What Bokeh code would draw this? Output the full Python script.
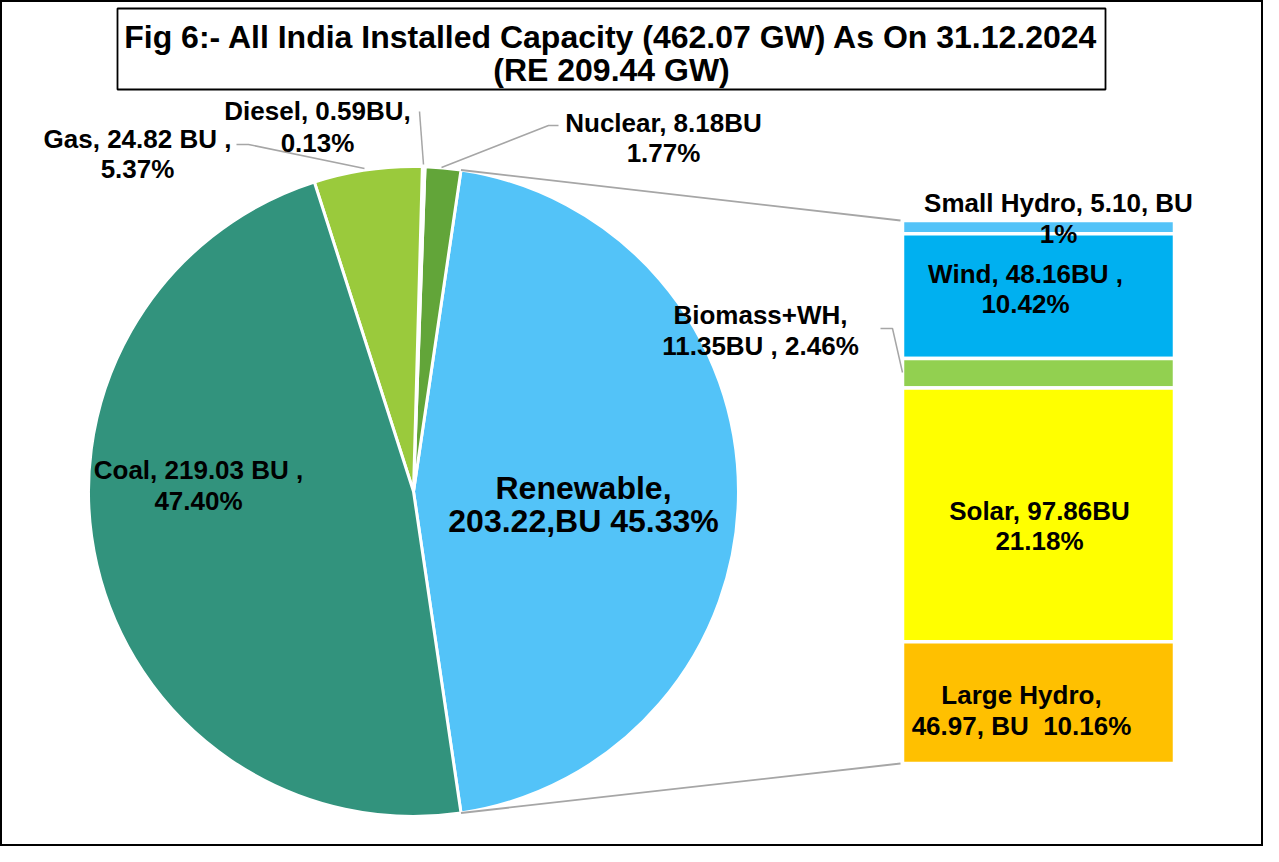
import numpy as np
from bokeh.plotting import figure
from bokeh.models import Range1d, ColumnDataSource
from bokeh.core.properties import value
from bokeh.embed import file_html
from bokeh.resources import INLINE

# ---------------- data ----------------
pie_names = ["Renewable", "Nuclear", "Diesel", "Gas", "Coal"]
pie_values = [203.22, 8.18, 0.59, 24.82, 219.03]
pie_pcts = [45.33, 1.77, 0.13, 5.37, 47.40]
pie_colors = ["#53C3F8", "#62A539", "#A9D18E", "#9ACA3C", "#32937D"]

bar_names = ["Small Hydro", "Wind", "Biomass+WH", "Solar", "Large Hydro"]
bar_values = [5.10, 48.16, 11.35, 97.86, 46.97]
bar_pcts = [1, 10.42, 2.46, 21.18, 10.16]
bar_colors = ["#53C3F8", "#00B0F0", "#92D050", "#FFFF00", "#FFC000"]

title_lines = ["Fig 6:- All India Installed Capacity (462.07 GW) As On 31.12.2024",
               "(RE 209.44 GW)"]

pie_labels = [
    ["Renewable,", "203.22,BU 45.33%"],
    ["Nuclear, 8.18BU", "1.77%"],
    ["Diesel, 0.59BU,", "0.13%"],
    ["Gas, 24.82 BU ,", "5.37%"],
    ["Coal, 219.03 BU ,", "47.40%"],
]
bar_labels = [
    ["Small Hydro, 5.10, BU", "1%"],
    ["Wind, 48.16BU ,", "10.42%"],
    ["Biomass+WH,", "11.35BU , 2.46%"],
    ["Solar, 97.86BU", "21.18%"],
    ["Large Hydro,", "46.97, BU\u00a0 10.16%"],
]

# ---------------- layout ----------------
W, H = 1263, 846
def Y(ref_y):
    return 862 - ref_y

p = figure(width=W, height=H, x_range=Range1d(8, 8 + W), y_range=Range1d(8, 8 + H),
           x_axis_type=None, y_axis_type=None, toolbar_location=None,
           output_backend="svg", min_border=0)
p.grid.visible = False
p.outline_line_color = "black"
p.outline_line_width = 3
p.background_fill_color = "white"
p.border_fill_color = "white"

FONT = value("Liberation Sans")

# title box
p.quad(left=[125], right=[1113], top=[Y(16)], bottom=[Y(97)],
       fill_color="white", line_color="black", line_width=1.8)
p.text(x=[619, 619], y=[Y(44), Y(77)], text=title_lines, text_font=FONT,
       text_font_style="bold", text_font_size="32px", text_align="center",
       text_baseline="middle", text_color="black")

# pie
cx, cy, R = 421, Y(499), 325
ang = np.array(pie_pcts) / sum(pie_pcts) * 2 * np.pi
start0 = -ang[0] / 2
starts = start0 + np.concatenate([[0], np.cumsum(ang)[:-1]])
ends = starts + ang
p.wedge(x=cx, y=cy, radius=R, start_angle=starts, end_angle=ends,
        fill_color=pie_colors, line_color="white", line_width=3)

# bar of pie
bx0, bx1 = 910, 1182
btop, bbot = Y(228), Y(771)
scale = (btop - bbot) / sum(bar_values)
cum = np.concatenate([[0], np.cumsum(bar_values)])
tops = btop - cum[:-1] * scale
bots = btop - cum[1:] * scale
p.quad(left=bx0, right=bx1, top=tops, bottom=bots, fill_color=bar_colors,
       line_color="white", line_width=3.5)

# series lines from pie to bar
ex_top = (cx + R * np.cos(ends[0]), cy + R * np.sin(ends[0]))
ex_bot = (cx + R * np.cos(starts[0]), cy + R * np.sin(starts[0]))
p.segment(x0=[ex_top[0], ex_bot[0]], y0=[ex_top[1], ex_bot[1]],
          x1=[bx0 - 2, bx0 - 2], y1=[btop, bbot], line_color="#A6A6A6", line_width=1.8)

# leader lines
LC = "#A6A6A6"
p.line([244, 256, 372], [Y(152), Y(152), Y(176)], line_color=LC, line_width=1.5)
p.line([427, 431], [Y(119), Y(172)], line_color=LC, line_width=1.5)
p.line([566, 556, 449], [Y(133), Y(133), Y(175)], line_color=LC, line_width=1.5)
p.line([888, 900, 910], [Y(336), Y(336), Y(380)], line_color=LC, line_width=1.5)

# labels (positions are layout only)
pie_label_pos = [(591, 495, 528, "32px"), (671, 130, 160, "26px"), (325, 118, 150, "26px"),
                 (145, 146, 176, "26px"), (206, 477, 508, "26px")]
bar_label_pos = [(1066, 210, 241), (1033, 281, 311), (768, 322, 353),
                 (1047, 518, 548), (1029, 702, 733)]

xs, ys, ts, fs = [], [], [], []
for (x, y1, y2, f), lab in zip(pie_label_pos, pie_labels):
    xs += [x, x]; ys += [Y(y1), Y(y2)]; ts += lab; fs += [f, f]
for (x, y1, y2), lab in zip(bar_label_pos, bar_labels):
    xs += [x, x]; ys += [Y(y1), Y(y2)]; ts += lab; fs += ["26px", "26px"]
src = ColumnDataSource(dict(x=xs, y=ys, text=ts, fs=fs))
p.text(x="x", y="y", text="text", source=src, text_font=FONT, text_font_style="bold",
       text_font_size="fs", text_align="center", text_baseline="middle", text_color="black")

open("out.html", "w").write(file_html(p, INLINE))
